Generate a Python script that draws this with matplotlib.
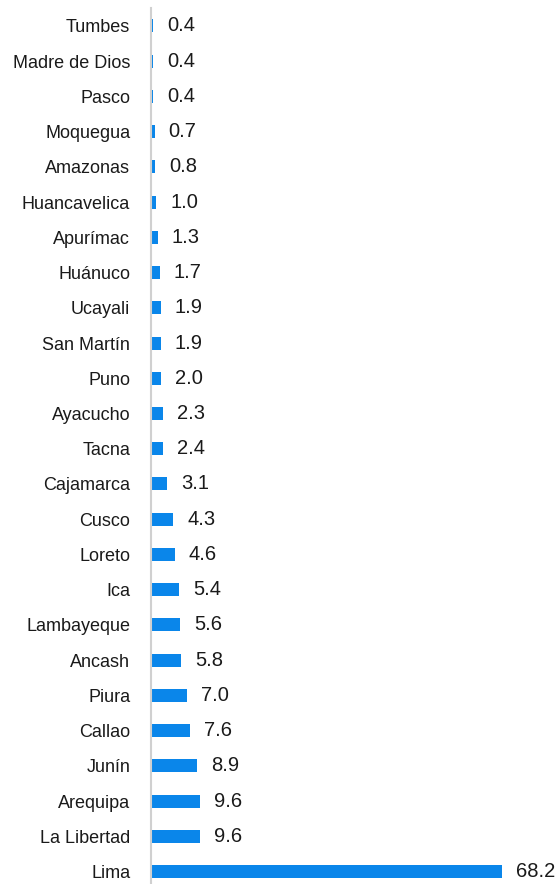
import matplotlib
matplotlib.use("Agg")
import matplotlib.pyplot as plt

regions = ["Tumbes", "Madre de Dios", "Pasco", "Moquegua", "Amazonas",
           "Huancavelica", "Apurímac", "Huánuco", "Ucayali", "San Martín",
           "Puno", "Ayacucho", "Tacna", "Cajamarca", "Cusco", "Loreto", "Ica",
           "Lambayeque", "Ancash", "Piura", "Callao", "Junín", "Arequipa",
           "La Libertad", "Lima"]
shares = [0.4, 0.4, 0.4, 0.7, 0.8, 1.0, 1.3, 1.7, 1.9, 1.9, 2.0, 2.3, 2.4,
          3.1, 4.3, 4.6, 5.4, 5.6, 5.8, 7.0, 7.6, 8.9, 9.6, 9.6, 68.2]

plt.rcParams['font.family'] = ['Liberation Sans', 'DejaVu Sans']

fig = plt.figure(figsize=(5.59, 8.84), dpi=100)
ax = fig.add_axes([151 / 559, 0, 400 / 559, 876 / 884])

n = len(regions)
ypos = [n - 1 - i for i in range(n)]
ax.barh(ypos, shares, height=0.37, color='#0A86EA', left=0)

# value labels just right of each bar
for y, v in zip(ypos, shares):
    ax.annotate(f"{v:.1f}", xy=(v, y), xytext=(14, 0), textcoords='offset pixels',
                ha='left', va='center', fontsize=14.5, color='#1a1a1a')

ax.set_yticks(ypos)
ax.set_yticklabels(regions, fontsize=13, color='#1a1a1a')
ax.tick_params(axis='y', length=0, pad=15)
ax.set_xticks([])
ax.set_xlim(0, 77.7)
ax.set_ylim(-0.355, n - 1 + 0.51)

for s in ['top', 'right', 'bottom']:
    ax.spines[s].set_visible(False)
ax.spines['left'].set_color('#d0d0d0')
ax.spines['left'].set_linewidth(1.5)

fig.savefig("out.png", dpi=100)
